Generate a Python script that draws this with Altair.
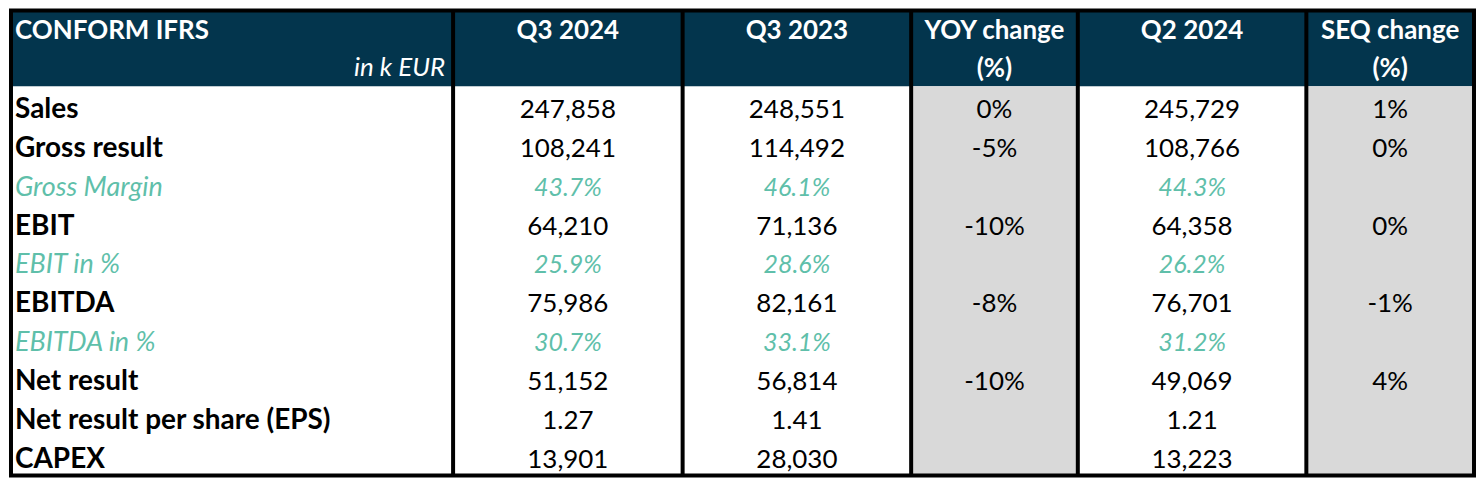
import altair as alt
import pandas as pd

# ---------------- data ----------------
headers_1 = ["CONFORM IFRS", "Q3 2024", "Q3 2023", "YOY change", "Q2 2024", "SEQ change"]
headers_2 = ["in k EUR", "", "", "(%)", "", "(%)"]

row_labels = ["Sales", "Gross result", "Gross Margin", "EBIT", "EBIT in %", "EBITDA",
              "EBITDA in %", "Net result", "Net result per share (EPS)", "CAPEX"]
row_kind = ["main", "main", "ratio", "main", "ratio", "main", "ratio", "main", "main", "main"]

q3_2024 = ["247,858", "108,241", "43.7%", "64,210", "25.9%", "75,986", "30.7%", "51,152", "1.27", "13,901"]
q3_2023 = ["248,551", "114,492", "46.1%", "71,136", "28.6%", "82,161", "33.1%", "56,814", "1.41", "28,030"]
yoy_change = ["0%", "-5%", "", "-10%", "", "-8%", "", "-10%", "", ""]
q2_2024 = ["245,729", "108,766", "44.3%", "64,358", "26.2%", "76,701", "31.2%", "49,069", "1.21", "13,223"]
seq_change = ["1%", "0%", "", "0%", "", "-1%", "", "4%", "", ""]

value_columns = [q3_2024, q3_2023, yoy_change, q2_2024, seq_change]
shaded_columns = [False, False, True, False, True]

# ---------------- layout ----------------
W, H = 1470, 470
col_edges = [2, 445, 675, 904, 1071, 1300, 1468]
header_h = 78
row_h = 39
NAVY = "#03354d"
GREY = "#d9d9d9"
TEAL = "#5fbfaa"
FONT = "Lato"
FS = 26
FS_LABEL = 28
FS_RATIO_LABEL = 27
PAD_L = 4

n_rows = len(row_labels)
row_top = [header_h + i * row_h for i in range(n_rows)]
row_mid = [t + row_h / 2 + 4 for t in row_top]

xs = alt.X("x:Q", scale=alt.Scale(domain=[0, W], nice=False, zero=False), axis=None)
ys = alt.Y("y:Q", scale=alt.Scale(domain=[0, H], nice=False, zero=False, reverse=True), axis=None)

# backgrounds
bg_rows = [{"x": col_edges[0], "x2": col_edges[-1], "y": 2, "y2": header_h, "fill": NAVY}]
for j, shaded in enumerate(shaded_columns):
    if shaded:
        bg_rows.append({"x": col_edges[j + 1], "x2": col_edges[j + 2], "y": header_h,
                        "y2": header_h + n_rows * row_h, "fill": GREY})
bg = alt.Chart(pd.DataFrame(bg_rows)).mark_rect().encode(
    x=xs, x2="x2:Q", y=ys, y2="y2:Q",
    fill=alt.Fill("fill:N", scale=None))

# header text
hdr_main = pd.DataFrame({
    "x": [col_edges[0] + PAD_L] + [(col_edges[j] + col_edges[j + 1]) / 2 for j in range(1, 6)],
    "y": [23] * 6,
    "t": headers_1,
})
hdr_left = alt.Chart(hdr_main.iloc[:1]).mark_text(
    font=FONT, fontSize=FS, fontWeight="bold", color="white", align="left", baseline="middle"
).encode(x=xs, y=ys, text="t:N")
hdr_ctr = alt.Chart(hdr_main.iloc[1:]).mark_text(
    font=FONT, fontSize=FS, fontWeight="bold", color="white", align="center", baseline="middle"
).encode(x=xs, y=ys, text="t:N")

hdr2 = pd.DataFrame({
    "x": [(col_edges[j] + col_edges[j + 1]) / 2 for j in range(6)],
    "y": [61] * 6,
    "t": headers_2,
})
hdr2_unit = alt.Chart(pd.DataFrame({"x": [col_edges[1] - 8], "y": [60], "t": [headers_2[0]]})).mark_text(
    font=FONT, fontSize=FS, fontStyle="italic", color="white", align="right", baseline="middle"
).encode(x=xs, y=ys, text="t:N")
hdr2_rest = hdr2.iloc[1:]
hdr2_ctr = alt.Chart(hdr2_rest[hdr2_rest["t"] != ""]).mark_text(
    font=FONT, fontSize=FS, fontWeight="bold", color="white", align="center", baseline="middle"
).encode(x=xs, y=ys, text="t:N")

# body labels
lab = pd.DataFrame({"x": [col_edges[0] + PAD_L] * n_rows, "y": row_mid, "t": row_labels, "kind": row_kind})
lab_main = alt.Chart(lab[lab["kind"] == "main"]).mark_text(
    font=FONT, fontSize=FS_LABEL, fontWeight="bold", color="black", align="left", baseline="middle"
).encode(x=xs, y=ys, text="t:N")
lab_ratio = alt.Chart(lab[lab["kind"] == "ratio"]).mark_text(
    font=FONT, fontSize=FS_RATIO_LABEL, fontStyle="italic", color=TEAL, align="left", baseline="middle"
).encode(x=xs, y=ys, text="t:N")

# body values
cells = []
for j, col in enumerate(value_columns):
    cx = (col_edges[j + 1] + col_edges[j + 2]) / 2
    for i, v in enumerate(col):
        if v != "":
            cells.append({"x": cx, "y": row_mid[i], "t": v, "kind": row_kind[i]})
cells = pd.DataFrame(cells)
val_main = alt.Chart(cells[cells["kind"] == "main"]).mark_text(
    font=FONT, fontSize=FS, color="black", align="center", baseline="middle"
).encode(x=xs, y=ys, text="t:N")
val_ratio = alt.Chart(cells[cells["kind"] == "ratio"]).mark_text(
    font=FONT, fontSize=FS - 1, fontStyle="italic", color=TEAL, align="center", baseline="middle"
).encode(x=xs, y=ys, text="t:N")

# grid lines
vlines = pd.DataFrame({"x": col_edges[1:-1], "y": [2] * 5, "y2": [H - 2] * 5})
vrules = alt.Chart(vlines).mark_rule(color="black", strokeWidth=4).encode(x=xs, y=ys, y2="y2:Q")
frame = alt.Chart(pd.DataFrame({"x": [col_edges[0]], "x2": [col_edges[-1]], "y": [2], "y2": [H - 2]})).mark_rect(
    fill=None, stroke="black", strokeWidth=4, fillOpacity=0
).encode(x=xs, x2="x2:Q", y=ys, y2="y2:Q")

chart = alt.layer(
    bg, vrules, frame, hdr_left, hdr_ctr, hdr2_unit, hdr2_ctr, lab_main, lab_ratio, val_main, val_ratio
).properties(width=W, height=H, padding=0, background="white").configure_view(stroke=None)

chart.save("out.html", embed_options={"renderer": "svg", "actions": False})
